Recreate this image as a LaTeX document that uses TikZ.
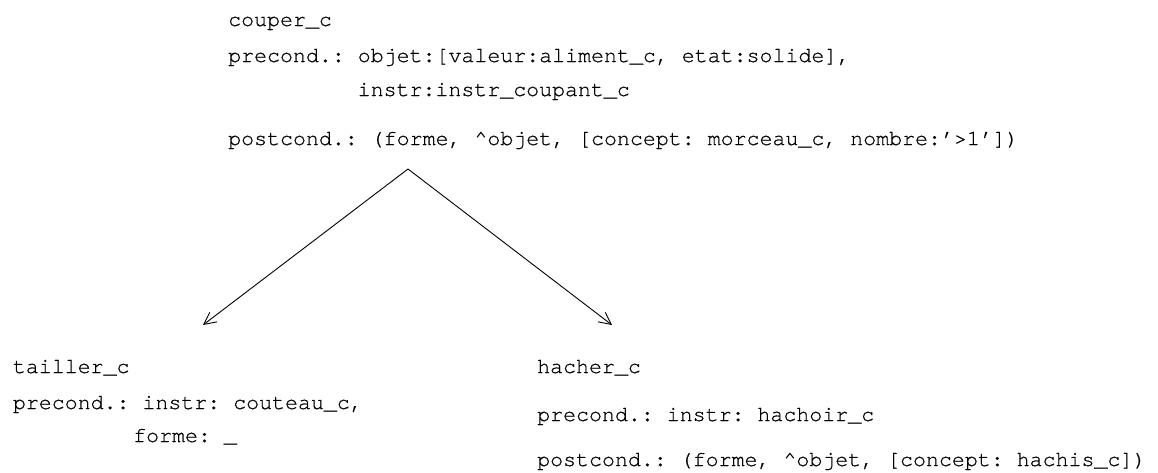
\documentclass[tikz,border=0pt]{standalone}
\usepackage{fontspec}
\setmonofont{TeX Gyre Cursor}[FakeBold=0.6]
\usetikzlibrary{arrows.meta}
\begin{document}
\begin{tikzpicture}[x=1pt,y=-1pt,
  txt/.style={anchor=base west, inner sep=0pt,
    font=\ttfamily\fontsize{21.6}{26}\selectfont},
  link/.style={line width=0.9pt,
    -{Straight Barb[length=12pt,width=12pt,line width=0.9pt]}}]
\useasboundingbox (0,0) rectangle (1158,472);

% parent action
\node[txt] (cname)  at (228,26)  {couper\_c};
\node[txt] (cpre)   at (228,62)  {precond.: objet:[valeur:aliment\_c, etat:solide],};
\node[txt] (cpre2)  at (357.5,96) {instr:instr\_coupant\_c};
\node[txt] (cpost)  at (228,145) {postcond.: (forme, \textasciicircum objet, [concept: morceau\_c, nombre:’>1’])};

% first specialisation
\node[txt] (tname)  at (12.7,373) {tailler\_c};
\node[txt] (tpre)   at (12.7,409) {precond.: instr: couteau\_c,};
\node[txt] (tpre2)  at (133,442)  {forme: \_};

% second specialisation
\node[txt] (hname)  at (537,373) {hacher\_c};
\node[txt] (hpre)   at (537,421) {precond.: instr: hachoir\_c};
\node[txt] (hpost)  at (537,466) {postcond.: (forme, \textasciicircum objet, [concept: hachis\_c])};

% branching arrows
\coordinate (split) at (408,169);
\coordinate (tin)   at (203,325);
\coordinate (hin)   at (612,325);
\draw[link] (split) -- (tin);
\draw[link] (split) -- (hin);
\end{tikzpicture}
\end{document}
